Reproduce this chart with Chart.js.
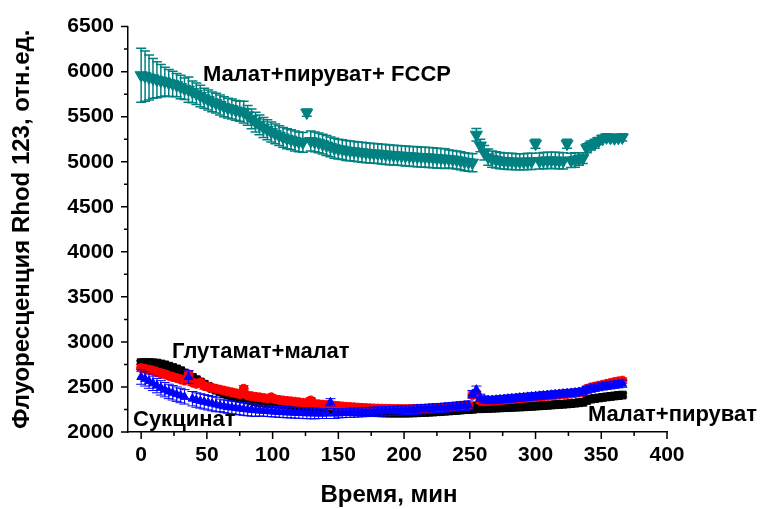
<!DOCTYPE html>
<html>
<head>
<meta charset="utf-8">
<script src="https://cdn.jsdelivr.net/npm/chart.js@4.4.0/dist/chart.umd.min.js"></script>
<style>
    html, body { margin: 0; padding: 0; background: #ffffff; }
    #contenedor { width: 762px; height: 509px; }
</style>
</head>
<body>
<div id="contenedor"><canvas id="fluorescenciaChart" width="762" height="509"></canvas></div>
<script>
// Tiempo de medición, min
const tiempo = [
    0, 3, 6, 9, 12, 15, 18, 21, 24, 27,
    30, 33, 36, 39, 42, 45, 48, 51, 54, 57,
    60, 63, 66, 69, 72, 75, 78, 81, 84, 87,
    90, 93, 96, 99, 102, 105, 108, 111, 114, 117,
    120, 123, 126, 129, 132, 135, 138, 141, 144, 147,
    150, 153, 156, 159, 162, 165, 168, 171, 174, 177,
    180, 183, 186, 189, 192, 195, 198, 201, 204, 207,
    210, 213, 216, 219, 222, 225, 228, 231, 234, 237,
    240, 243, 246, 249, 252, 255, 258, 261, 264, 267,
    270, 273, 276, 279, 282, 285, 288, 291, 294, 297,
    300, 303, 306, 309, 312, 315, 318, 321, 324, 327,
    330, 333, 336, 339, 342, 345, 348, 351, 354, 357,
    360, 363, 366
];

// Малат+пируват+ FCCP
const fccp = [
    5960, 5950, 5935, 5925, 5910, 5900, 5890, 5875, 5865, 5850,
    5830, 5810, 5800, 5775, 5755, 5730, 5705, 5685, 5665, 5650,
    5630, 5610, 5595, 5585, 5570, 5560, 5550, 5515, 5475, 5440,
    5410, 5380, 5355, 5330, 5310, 5290, 5270, 5255, 5245, 5230,
    5220, 5215, 5545, 5230, 5220, 5210, 5195, 5180, 5165, 5150,
    5140, 5135, 5125, 5120, 5115, 5110, 5105, 5100, 5095, 5092,
    5090, 5085, 5080, 5077, 5073, 5070, 5067, 5064, 5060, 5058,
    5055, 5052, 5050, 5047, 5044, 5040, 5037, 5034, 5030, 5025,
    5020, 5010, 5000, 4995, 4990, 5300, 5180, 5100, 5050, 5030,
    5020, 5012, 5008, 5005, 5003, 5000, 5000, 5000, 5003, 5005,
    5200, 5008, 5012, 5015, 5015, 5014, 5012, 5010, 5200, 5015,
    5020, 5030, 5040, 5150, 5180, 5200, 5230, 5255, 5270, 5265,
    5260, 5265, 5270
];
const fccpErr = [
    300, 280, 250, 220, 200, 180, 160, 150, 140, 130,
    130, 120, 140, 120, 120, 120, 110, 110, 110, 110,
    110, 110, 110, 110, 110, 110, 120, 110, 110, 110,
    110, 110, 110, 110, 110, 110, 110, 110, 110, 110,
    110, 110, 40, 110, 110, 110, 110, 110, 110, 110,
    110, 110, 110, 110, 110, 110, 110, 110, 110, 110,
    110, 110, 110, 110, 110, 110, 110, 110, 110, 110,
    110, 110, 110, 110, 110, 110, 110, 110, 100, 100,
    100, 100, 100, 100, 100, 70, 70, 80, 90, 90,
    90, 90, 90, 90, 90, 90, 90, 90, 90, 90,
    50, 90, 90, 90, 90, 90, 90, 90, 50, 80,
    80, 70, 60, 50, 50, 50, 40, 40, 40, 40,
    40, 40, 40
];

// Глутамат+малат (квадраты)
const glutamato = [
    2770, 2770, 2770, 2768, 2765, 2755, 2745, 2730, 2715, 2700,
    2680, 2655, 2630, 2605, 2580, 2555, 2530, 2505, 2485, 2465,
    2445, 2425, 2410, 2395, 2385, 2375, 2365, 2355, 2345, 2335,
    2328, 2322, 2318, 2315, 2312, 2308, 2304, 2300, 2296, 2290,
    2285, 2280, 2275, 2340, 2270, 2265, 2260, 2255, 2250, 2246,
    2242, 2238, 2235, 2232, 2229, 2226, 2223, 2220, 2218, 2216,
    2214, 2212, 2211, 2210, 2210, 2210, 2210, 2210, 2211, 2212,
    2214, 2216, 2218, 2220, 2222, 2225, 2228, 2231, 2234, 2237,
    2240, 2244, 2248, 2250, 2252, 2290, 2258, 2260, 2262, 2264,
    2266, 2268, 2270, 2272, 2274, 2276, 2278, 2280, 2282, 2285,
    2288, 2291, 2294, 2297, 2300, 2303, 2306, 2309, 2312, 2316,
    2320, 2325, 2330, 2350, 2365, 2372, 2378, 2384, 2390, 2395,
    2400, 2405, 2410
];
const glutamatoErr = [
    20, 20, 20, 20, 20, 20, 20, 20, 20, 20,
    20, 20, 20, 20, 20, 20, 20, 20, 20, 20,
    20, 20, 20, 20, 20, 20, 20, 20, 20, 20,
    20, 20, 20, 20, 20, 20, 20, 20, 20, 20,
    20, 20, 20, 25, 20, 20, 20, 20, 20, 20,
    15, 15, 15, 15, 15, 15, 15, 15, 15, 15,
    15, 15, 15, 15, 15, 15, 15, 15, 15, 15,
    15, 15, 15, 15, 15, 15, 15, 15, 15, 15,
    15, 15, 15, 15, 15, 20, 15, 15, 15, 15,
    15, 15, 15, 15, 15, 15, 15, 15, 15, 15,
    15, 15, 15, 15, 15, 15, 15, 15, 15, 15,
    15, 15, 15, 20, 20, 20, 20, 20, 20, 20,
    20, 20, 20
];

// Малат+пируват (круги)
const piruvato = [
    2710, 2700, 2690, 2680, 2665, 2650, 2640, 2625, 2610, 2600,
    2585, 2570, 2640, 2550, 2535, 2550, 2510, 2500, 2490, 2480,
    2470, 2460, 2450, 2440, 2430, 2420, 2480, 2405, 2398, 2390,
    2385, 2378, 2372, 2385, 2362, 2356, 2350, 2345, 2340, 2336,
    2330, 2325, 2320, 2350, 2312, 2308, 2304, 2300, 2296, 2292,
    2288, 2284, 2280, 2277, 2274, 2271, 2268, 2266, 2264, 2262,
    2260, 2259, 2258, 2257, 2256, 2256, 2255, 2255, 2256, 2257,
    2258, 2259, 2260, 2262, 2264, 2266, 2268, 2271, 2274, 2278,
    2282, 2286, 2290, 2296, 2410, 2420, 2345, 2340, 2343, 2346,
    2350, 2354, 2358, 2362, 2366, 2370, 2374, 2378, 2382, 2386,
    2390, 2394, 2398, 2402, 2406, 2410, 2414, 2418, 2422, 2426,
    2432, 2438, 2445, 2480, 2495, 2505, 2515, 2525, 2535, 2545,
    2555, 2562, 2570
];
const piruvatoErr = [
    40, 40, 40, 40, 35, 35, 35, 35, 35, 35,
    35, 35, 40, 35, 35, 35, 35, 30, 30, 30,
    30, 30, 30, 30, 30, 30, 35, 30, 30, 30,
    30, 30, 30, 30, 30, 30, 30, 30, 30, 30,
    30, 30, 30, 30, 30, 30, 30, 30, 30, 30,
    30, 30, 30, 30, 30, 30, 30, 30, 30, 30,
    30, 30, 30, 30, 30, 30, 30, 30, 30, 30,
    30, 30, 30, 30, 30, 30, 30, 30, 30, 30,
    30, 30, 30, 30, 35, 35, 30, 30, 30, 30,
    30, 30, 30, 30, 30, 30, 30, 30, 30, 30,
    30, 30, 30, 30, 30, 30, 30, 30, 30, 30,
    30, 30, 30, 30, 30, 30, 30, 30, 30, 30,
    30, 30, 30
];

// Сукцинат (треугольники)
const succinato = [
    2610, 2590, 2565, 2540, 2515, 2490, 2470, 2450, 2435, 2420,
    2405, 2390, 2610, 2370, 2355, 2345, 2335, 2325, 2315, 2305,
    2295, 2285, 2278, 2272, 2266, 2260, 2255, 2250, 2246, 2242,
    2238, 2235, 2232, 2229, 2226, 2223, 2220, 2218, 2216, 2214,
    2212, 2210, 2208, 2207, 2206, 2205, 2205, 2205, 2330, 2205,
    2207, 2209, 2211, 2213, 2215, 2217, 2219, 2221, 2223, 2225,
    2227, 2229, 2231, 2233, 2235, 2237, 2239, 2241, 2243, 2246,
    2249, 2252, 2255, 2258, 2261, 2264, 2267, 2270, 2274, 2278,
    2282, 2286, 2290, 2295, 2420, 2470, 2380, 2360, 2355, 2355,
    2358, 2362, 2366, 2370, 2374, 2378, 2382, 2386, 2390, 2394,
    2398, 2402, 2406, 2410, 2414, 2418, 2422, 2426, 2430, 2434,
    2438, 2443, 2448, 2465, 2480, 2490, 2498, 2505, 2512, 2518,
    2524, 2530, 2536
];
const succinatoErr = [
    80, 80, 80, 80, 80, 80, 80, 80, 80, 80,
    80, 80, 70, 80, 80, 80, 80, 80, 80, 80,
    70, 70, 70, 70, 70, 70, 70, 70, 70, 70,
    60, 60, 60, 60, 60, 60, 60, 60, 60, 60,
    60, 60, 60, 60, 60, 55, 55, 55, 40, 55,
    50, 50, 50, 50, 50, 50, 50, 50, 50, 50,
    50, 50, 50, 50, 50, 50, 50, 50, 50, 50,
    50, 50, 50, 50, 50, 50, 50, 50, 50, 50,
    50, 50, 50, 50, 40, 40, 40, 40, 40, 40,
    40, 40, 40, 40, 40, 40, 40, 40, 40, 40,
    40, 40, 40, 40, 40, 40, 40, 40, 40, 40,
    40, 40, 40, 40, 40, 40, 40, 40, 40, 40,
    40, 40, 40
];

// Marcas de los ejes
const ticksX = [0, 50, 100, 150, 200, 250, 300, 350, 400];
const ticksY = [2000, 2500, 3000, 3500, 4000, 4500, 5000, 5500, 6000, 6500];

const fuente = "'Liberation Sans', Arial, sans-serif";

function puntos(valores) {
    return tiempo.map((t, i) => ({ x: t, y: valores[i] }));
}

// Barras de error verticales con remates
const barrasError = {
    id: 'barrasError',
    beforeDatasetDraw(chart, args) {
        const ds = chart.data.datasets[args.index];
        if (!ds.errores) return;
        const ctx = chart.ctx;
        const x = chart.scales.x;
        const y = chart.scales.y;
        ctx.save();
        ctx.strokeStyle = ds.borderColor;
        ctx.lineWidth = ds.grosorError || 1;
        ds.data.forEach((p, i) => {
            const e = ds.errores[i];
            const px = x.getPixelForValue(p.x);
            const arriba = y.getPixelForValue(p.y + e);
            const abajo = y.getPixelForValue(p.y - e);
            ctx.beginPath();
            ctx.moveTo(px, arriba);
            ctx.lineTo(px, abajo);
            ctx.moveTo(px - 5, arriba);
            ctx.lineTo(px + 5, arriba);
            ctx.moveTo(px - 5, abajo);
            ctx.lineTo(px + 5, abajo);
            ctx.stroke();
        });
        ctx.restore();
    }
};

// Marcas mayores y menores hacia fuera
const marcasEje = {
    id: 'marcasEje',
    afterDraw(chart) {
        const ctx = chart.ctx;
        const x = chart.scales.x;
        const y = chart.scales.y;
        const base = chart.chartArea.bottom;
        const izq = chart.chartArea.left;
        ctx.save();
        ctx.strokeStyle = '#000';
        ctx.lineWidth = 1.5;
        ctx.beginPath();
        for (let v = 0; v <= 400; v += 25) {
            const px = x.getPixelForValue(v);
            const largo = v % 50 === 0 ? 7 : 4;
            ctx.moveTo(px, base);
            ctx.lineTo(px, base + largo);
        }
        for (let v = 2000; v <= 6500; v += 250) {
            const py = y.getPixelForValue(v);
            const largo = v % 500 === 0 ? 7 : 4;
            ctx.moveTo(izq, py);
            ctx.lineTo(izq - largo, py);
        }
        ctx.stroke();
        ctx.restore();
    }
};

// Rótulos de cada curva y título del eje X
const rotulos = {
    id: 'rotulos',
    afterDraw(chart) {
        const ctx = chart.ctx;
        ctx.save();
        ctx.fillStyle = '#000';
        ctx.textBaseline = 'middle';
        ctx.textAlign = 'left';
        ctx.font = "bold 22px " + fuente;
        ctx.fillText('Малат+пируват+ FCCP', 203, 75);
        ctx.fillText('Глутамат+малат', 172, 352);
        ctx.fillText('Сукцинат', 133, 420);
        ctx.fillText('Малат+пируват', 588, 415);
        ctx.textAlign = 'center';
        ctx.font = "bold 24px " + fuente;
        ctx.fillText('Время, мин', 389, 495);
        ctx.restore();
    }
};

const ctxFluor = document.getElementById('fluorescenciaChart').getContext('2d');
const fluorescenciaChart = new Chart(ctxFluor, {
    type: 'scatter',
    data: {
        datasets: [
            {
                label: 'Сукцинат',
                data: puntos(succinato),
                errores: succinatoErr,
                pointStyle: 'triangle',
                pointRadius: 5,
                backgroundColor: '#0000ff',
                borderColor: '#0000ff',
                borderWidth: 1
            },
            {
                label: 'Малат+пируват',
                data: puntos(piruvato),
                errores: piruvatoErr,
                pointStyle: 'circle',
                pointRadius: 4.5,
                backgroundColor: '#ff0000',
                borderColor: '#ff0000',
                borderWidth: 1
            },
            {
                label: 'Глутамат+малат',
                data: puntos(glutamato),
                errores: glutamatoErr,
                pointStyle: 'rect',
                pointRadius: 5.5,
                backgroundColor: '#000000',
                borderColor: '#000000',
                borderWidth: 1
            },
            {
                label: 'Малат+пируват+ FCCP',
                data: puntos(fccp),
                errores: fccpErr,
                grosorError: 1.5,
                pointStyle: 'triangle',
                rotation: 180,
                pointRadius: 7,
                backgroundColor: '#008080',
                borderColor: '#008080',
                borderWidth: 1
            }
        ]
    },
    options: {
        responsive: false,
        animation: false,
        devicePixelRatio: 1,
        layout: {
            padding: { top: 26, right: 95, left: 0, bottom: 0 }
        },
        plugins: {
            legend: { display: false },
            tooltip: { enabled: false }
        },
        scales: {
            x: {
                type: 'linear',
                min: -10,
                max: 400,
                afterFit(scale) { scale.height = 77; },
                afterBuildTicks(scale) { scale.ticks = ticksX.map(v => ({ value: v })); },
                grid: { display: false, drawTicks: false },
                border: { display: true, color: '#000', width: 1.5 },
                ticks: {
                    color: '#000',
                    padding: 11,
                    maxRotation: 0,
                    callback: value => String(value),
                    font: { family: fuente, size: 21, weight: 'bold' }
                }
            },
            y: {
                type: 'linear',
                min: 2000,
                max: 6500,
                afterFit(scale) { scale.width = 128; },
                afterBuildTicks(scale) { scale.ticks = ticksY.map(v => ({ value: v })); },
                grid: { display: false, drawTicks: false },
                border: { display: true, color: '#000', width: 1.5 },
                ticks: {
                    color: '#000',
                    padding: 14,
                    callback: value => String(value),
                    font: { family: fuente, size: 21, weight: 'bold' }
                },
                title: {
                    display: true,
                    text: 'Флуоресценция Rhod 123, отн.ед.',
                    color: '#000',
                    padding: { top: 8, bottom: 0 },
                    font: { family: fuente, size: 24, weight: 'bold' }
                }
            }
        }
    },
    plugins: [barrasError, marcasEje, rotulos]
});
</script>
</body>
</html>
